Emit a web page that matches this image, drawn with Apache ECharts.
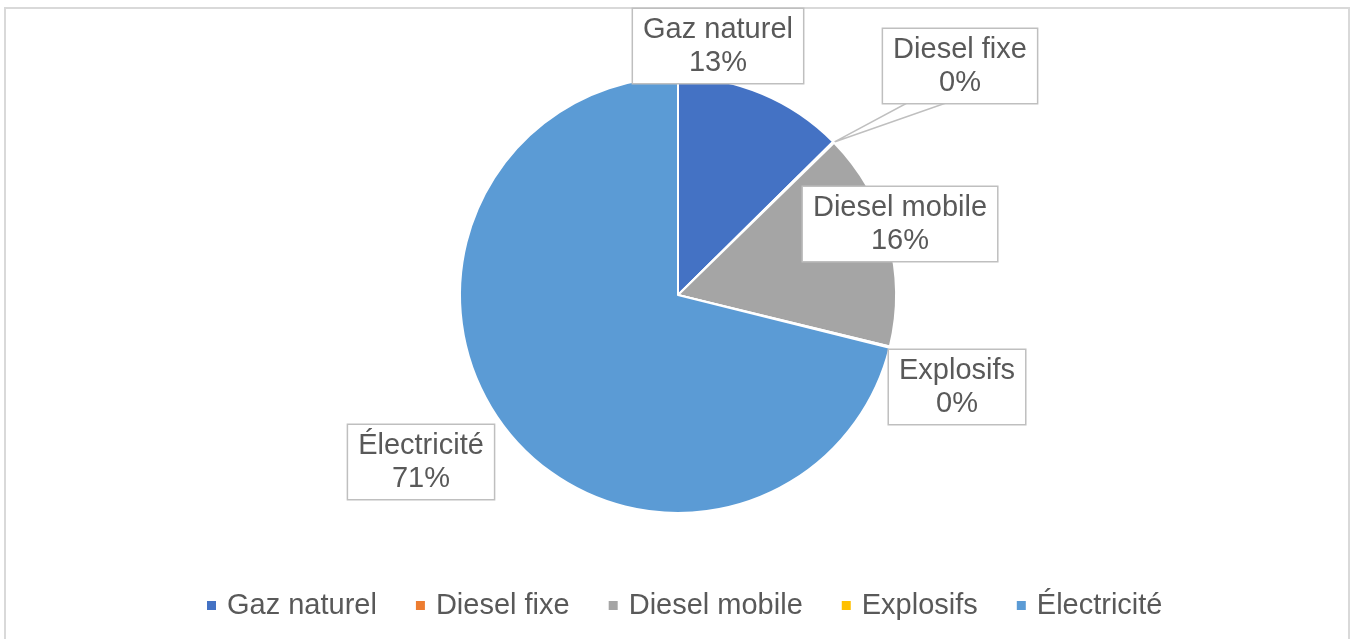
<!DOCTYPE html>
<html>
<head>
<meta charset="utf-8">
<script src="https://cdn.jsdelivr.net/npm/echarts@6/dist/echarts.min.js"></script>
<style>
html,body{margin:0;padding:0;background:#fff;}
#chart{width:1351px;height:639px;}
</style>
</head>
<body>
<div id="chart"></div>
<script>
const categories = ['Gaz naturel', 'Diesel fixe', 'Diesel mobile', 'Explosifs', 'Électricité'];
const values = [12.6, 0.1, 16.1, 0.1, 71.1];
const colors = ['#4472C4', '#ED7D31', '#A5A5A5', '#FFC000', '#5B9BD5'];
// label box centres (layout only)
const labelPos = [[718, 46], [960, 66], [900, 224], [957, 387], [421, 462]];

const chart = echarts.init(document.getElementById('chart'), null, {renderer: 'canvas'});
const fontFam = '"Liberation Sans", Arial, sans-serif';

chart.setOption({
  animation: false,
  backgroundColor: '#ffffff',
  color: colors,
  graphic: [{
    type: 'rect', silent: true, z: -1,
    shape: {x: 5, y: 8, width: 1344, height: 700},
    style: {fill: 'none', stroke: '#d9d9d9', lineWidth: 2}
  }],
  legend: {
    bottom: 14,
    left: 200,
    icon: 'rect',
    itemWidth: 11,
    itemHeight: 11,
    itemGap: 37,
    data: categories,
    textStyle: {fontFamily: fontFam, fontSize: 29, color: '#595959', padding: [0, 0, 0, 5]}
  },
  series: [{
    type: 'pie',
    center: [678, 295],
    radius: 218,
    startAngle: 90,
    clockwise: true,
    avoidLabelOverlap: false,
    emphasis: {disabled: true},
    itemStyle: {borderColor: '#ffffff', borderWidth: 2},
    label: {
      show: true,
      position: 'outside',
      formatter: p => p.name + '\n' + Math.round(p.percent) + '%',
      fontFamily: fontFam,
      fontSize: 29,
      lineHeight: 33,
      color: '#595959',
      backgroundColor: '#ffffff',
      borderColor: '#bfbfbf',
      borderWidth: 1.5,
      padding: [5, 10, 3, 10],
      align: 'center'
    },
    labelLine: {show: false, lineStyle: {color: '#bfbfbf', width: 1.5}},
    labelLayout: function (params) {
      const i = params.dataIndex;
      const res = {x: labelPos[i][0], y: labelPos[i][1], align: 'center', verticalAlign: 'middle'};
      if (i === 1 && params.labelLinePoints) {
        const tip = params.labelLinePoints[0];
        res.labelLinePoints = [tip, [907, 103], [946, 103], tip];
      }
      return res;
    },
    data: categories.map((c, i) => ({
      name: c,
      value: values[i],
      labelLine: {show: i === 1}
    }))
  }]
});
</script>
</body>
</html>
